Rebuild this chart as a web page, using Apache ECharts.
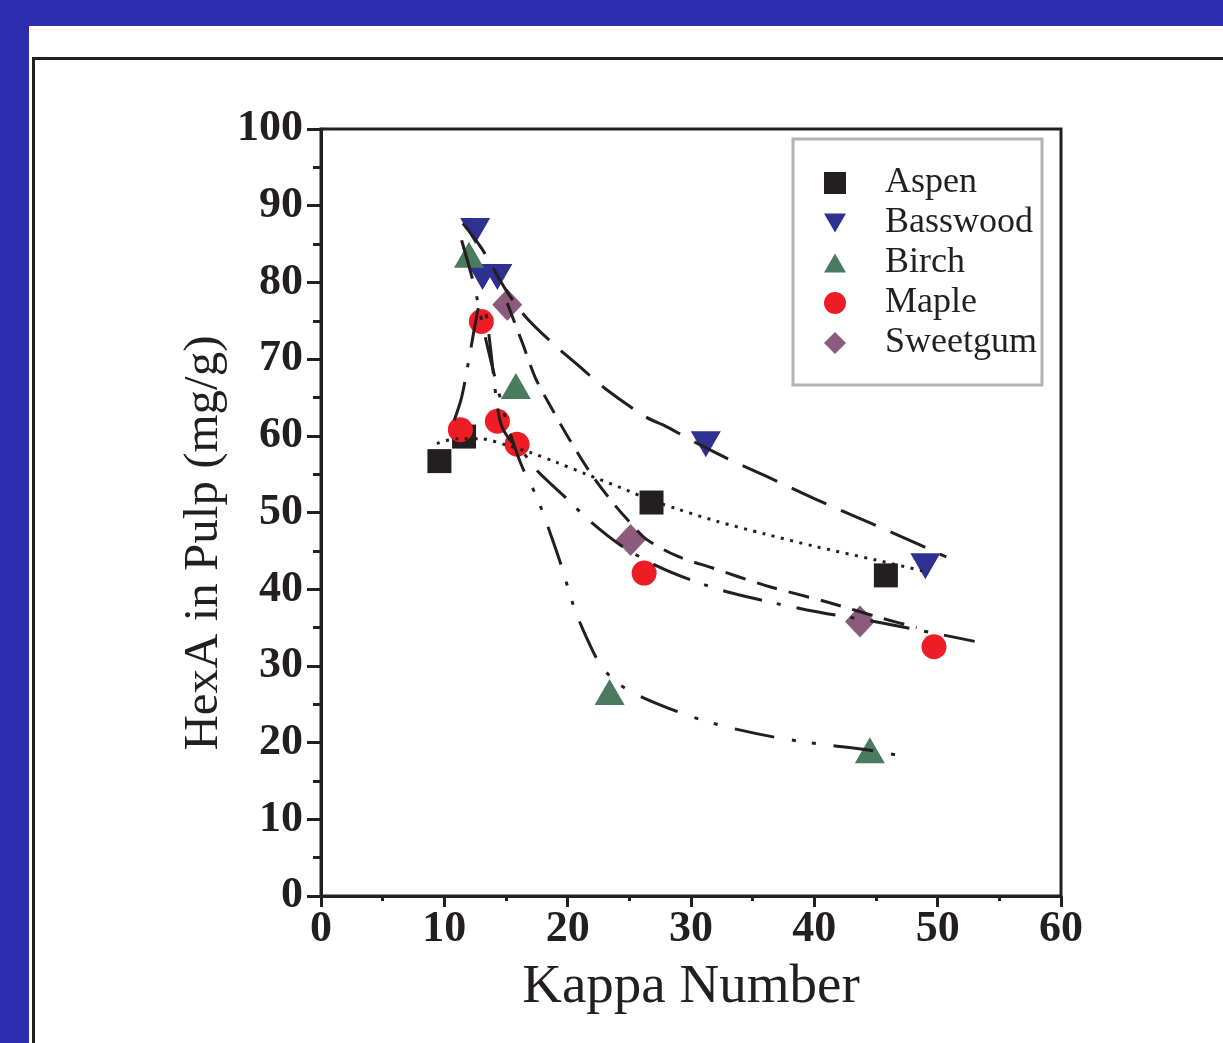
<!DOCTYPE html>
<html><head><meta charset="utf-8">
<script src="https://cdn.jsdelivr.net/npm/echarts@6/dist/echarts.min.js"></script>
<style>
html,body{margin:0;padding:0;background:#2d2db0;width:1223px;height:1043px;overflow:hidden}
#white{position:absolute;left:29px;top:26px;width:1194px;height:1017px;background:#fff}
#frame{position:absolute;left:32px;top:57px;width:1220px;height:1020px;border:3px solid #231f20;box-sizing:border-box}
#chart{position:absolute;left:0;top:0;width:1223px;height:1043px}
</style></head><body>
<div id="white"></div><div id="frame"></div><div id="chart"></div>
<script>
// ---- data ----
const speciesNames = ['Aspen', 'Basswood', 'Birch', 'Maple', 'Sweetgum'];
const xTicks = [0, 10, 20, 30, 40, 50, 60];
const yTicks = [0, 10, 20, 30, 40, 50, 60, 70, 80, 90, 100];

const aspen = [[9.6, 56.7], [11.6, 59.9], [26.8, 51.3], [45.8, 41.8]];
const basswood = [[12.5, 86.7], [13.1, 80.7], [14.3, 80.7], [31.2, 58.9], [49.0, 43.0]];
const birch = [[12.0, 83.6], [15.8, 66.5], [23.4, 26.6], [44.5, 19.0]];
const maple = [[11.3, 60.8], [13.0, 74.9], [14.3, 61.9], [15.9, 58.9], [26.2, 42.1], [49.7, 32.5]];
const sweetgum = [[15.1, 77.1], [25.1, 46.4], [43.7, 35.8]];

// fitted curves
const aspenFit = [[9.4, 59.0], [11, 59.6], [13, 59.6], [15, 58.8], [17, 57.8], [19, 56.6], [21.5, 55.0], [24.2, 53.3], [26.8, 51.6], [29, 50.4], [32, 48.9], [36, 47.2], [40, 45.6], [45, 43.8], [49.3, 42.2]];
const basswoodFit = [[11.5, 87.7], [13, 84.5], [15, 79], [16.6, 75.5], [19.1, 71.6], [21, 69], [23, 66.2], [26.4, 62.4], [28, 61.2], [30.4, 59.1], [33, 57], [36, 54.8], [40, 51.8], [44, 49], [47, 46.9], [50.7, 44.2]];
const birchFit = [[11.4, 85.5], [12.4, 79.7], [13.3, 73], [14.2, 67], [15.2, 61], [16.3, 56], [17.5, 52], [18.5, 47.7], [19.5, 43], [20.5, 37.7], [21.5, 33.8], [22.6, 30.3], [24, 27.8], [26.2, 25.8], [30, 23.4], [33, 22], [36.8, 20.7], [40.5, 19.8], [44.5, 19.0], [47.6, 18.1]];
const mapleFit = [[10.8, 62], [11.4, 65], [12.0, 70], [12.5, 74.5], [12.9, 77], [13.3, 76.5], [13.7, 72], [14.2, 65], [14.6, 61.5], [15.3, 59.5], [16.3, 58], [17.5, 55.5], [19.6, 52.3], [22, 48.6], [24.5, 45.5], [27.4, 42.9], [30, 41.2], [33.3, 39.5], [39.4, 37.3], [45.5, 35.6], [53.0, 33.2]];
const sweetgumFit = [[15.1, 77.3], [16.4, 71.8], [17.4, 67.5], [18.8, 63.3], [20.3, 59.1], [22, 54.8], [23.7, 51.2], [25, 48.8], [26.4, 46.5], [28.9, 44.3], [31.7, 42.8], [36, 40.5], [41.1, 38.3], [45.5, 36.2], [48.3, 35.0]];

// ---- styling ----
const INK = '#231f20';
const SERIF = '"Liberation Serif", "Times New Roman", serif';
const upTri = 'path://M50,0L100,87L0,87Z';
const downTri = 'path://M0,0L100,0L50,87Z';

const markers = {
  Aspen:    { data: aspen,    symbol: 'rect',    size: 24,       color: INK },
  Basswood: { data: basswood, symbol: downTri,   size: [30, 26], color: '#2e3192' },
  Birch:    { data: birch,    symbol: upTri,     size: [30, 26], color: '#4a7b5e' },
  Maple:    { data: maple,    symbol: 'circle',  size: 25,       color: '#ee1c25' },
  Sweetgum: { data: sweetgum, symbol: 'diamond', size: [30, 32], color: '#8c5a7a' }
};
const fits = [
  { data: aspenFit,    dash: [3, 6.5] },
  { data: basswoodFit, dash: [38, 16] },
  { data: birchFit,    dash: [40, 18, 4, 16, 4, 18] },
  { data: mapleFit,    dash: [40, 15, 4, 16] },
  { data: sweetgumFit, dash: [21, 12] }
];

const series = [];
speciesNames.forEach(n => {
  const m = markers[n];
  series.push({
    name: n, type: 'scatter', data: m.data, symbol: m.symbol, symbolSize: m.size,
    itemStyle: { color: m.color, opacity: 1 }, z: 2, silent: true
  });
});
fits.forEach((f, i) => {
  series.push({
    name: speciesNames[i] + ' fit', type: 'line', data: f.data, showSymbol: false, symbol: 'none',
    smooth: 0.3, lineStyle: { color: INK, width: 3, type: f.dash, cap: 'butt' }, z: 3, silent: true
  });
});

const axisCommon = {
  type: 'value',
  axisLine: { show: true, onZero: false, lineStyle: { color: INK, width: 3 } },
  splitLine: { show: false },
  minorSplitLine: { show: false }
};

const chart = echarts.init(document.getElementById('chart'), null, { renderer: 'canvas' });
chart.setOption({
  animation: false,
  backgroundColor: 'transparent',
  grid: { left: 321, right: 162, top: 129, bottom: 147, show: true, borderColor: INK, borderWidth: 3, backgroundColor: 'transparent' },
  xAxis: Object.assign({}, axisCommon, {
    min: xTicks[0], max: xTicks[xTicks.length - 1], interval: xTicks[1] - xTicks[0],
    axisTick: { show: true, inside: false, length: 11, lineStyle: { color: INK, width: 3 } },
    minorTick: { show: true, splitNumber: 2, length: 5, lineStyle: { color: INK, width: 3 } },
    axisLabel: { fontFamily: SERIF, fontSize: 44, fontWeight: 'bold', color: INK, margin: 12, showMinLabel: true, showMaxLabel: true },
    name: 'Kappa Number', nameLocation: 'middle', nameGap: 64,
    nameTextStyle: { fontFamily: SERIF, fontSize: 55, color: INK }
  }),
  yAxis: Object.assign({}, axisCommon, {
    min: yTicks[0], max: yTicks[yTicks.length - 1], interval: yTicks[1] - yTicks[0],
    axisTick: { show: true, inside: false, length: 14, lineStyle: { color: INK, width: 3 } },
    minorTick: { show: true, splitNumber: 2, length: 8, lineStyle: { color: INK, width: 3 } },
    axisLabel: { fontFamily: SERIF, fontSize: 44, fontWeight: 'bold', color: INK, margin: 18, showMinLabel: true, showMaxLabel: true }
  }),
  legend: {
    orient: 'vertical', left: 793, top: 139,
    padding: [26, 5, 24, 31], itemWidth: 22, itemHeight: 22, itemGap: 4,
    borderColor: '#b3b3b3', borderWidth: 3, backgroundColor: '#fff', borderRadius: 0,
    selectedMode: false,
    textStyle: { fontFamily: SERIF, fontSize: 36, lineHeight: 36, color: INK, padding: [0, 0, 0, 34] },
    data: speciesNames
  },
  graphic: [{
    type: 'text', x: 204, y: 543, rotation: Math.PI / 2, silent: true,
    style: { text: 'HexA in Pulp (mg/g)', fontFamily: SERIF, fontSize: 49, fill: INK,
             align: 'center', verticalAlign: 'middle', textAlign: 'center', textVerticalAlign: 'middle' }
  }],
  series: series
});
</script>
</body></html>
